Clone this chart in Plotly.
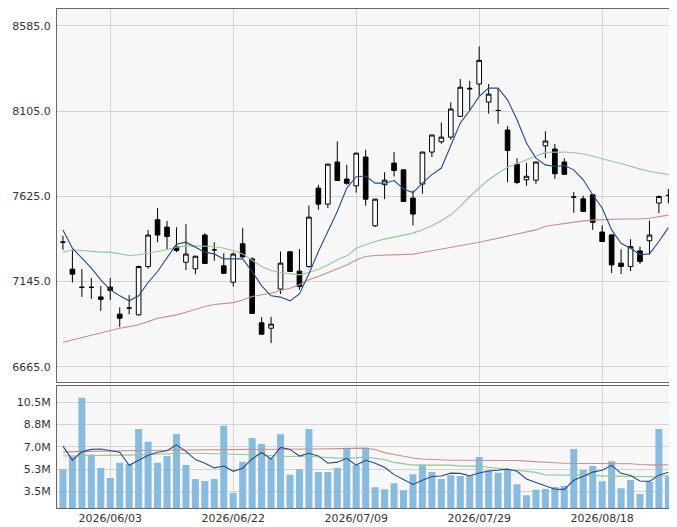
import plotly.graph_objects as go

dates = ["2026/05/27","2026/05/28","2026/05/29","2026/06/01","2026/06/02","2026/06/03","2026/06/04","2026/06/05",
         "2026/06/08","2026/06/09","2026/06/10","2026/06/11","2026/06/12","2026/06/15","2026/06/16","2026/06/17",
         "2026/06/18","2026/06/19","2026/06/22","2026/06/23","2026/06/24","2026/06/25","2026/06/26","2026/06/29",
         "2026/06/30","2026/07/01","2026/07/02","2026/07/03","2026/07/06","2026/07/07","2026/07/08","2026/07/09",
         "2026/07/10","2026/07/13","2026/07/14","2026/07/15","2026/07/16","2026/07/17","2026/07/21","2026/07/22",
         "2026/07/23","2026/07/24","2026/07/27","2026/07/28","2026/07/29","2026/07/30","2026/07/31","2026/08/03",
         "2026/08/04","2026/08/05","2026/08/06","2026/08/07","2026/08/10","2026/08/12","2026/08/13","2026/08/14",
         "2026/08/17","2026/08/18","2026/08/19","2026/08/20","2026/08/21","2026/08/24","2026/08/25","2026/08/26",
         "2026/08/27"]

open_ = [7367,7215,7113,7113,7059,7114,6962,6996,6958,7230,7493,7452,7342,7254,7217,7407,7324,7234,7142,7358,
         7273,6913,6883,7103,7313,7204,7230,7671,7581,7818,7722,7684,7846,7459,7690,7812,7774,7615,7694,7874,
         7932,7958,8075,8233,8257,8155,8108,7998,7806,7718,7716,7909,7891,7818,7621,7611,7634,7424,7408,7249,
         7230,7318,7375,7587,7630]
high = [7403,7324,7215,7166,7121,7165,7000,7069,7235,7436,7559,7487,7451,7469,7290,7418,7366,7305,7309,7448,
        7281,6945,6947,7314,7315,7328,7573,7690,7808,7934,7802,7870,7887,7612,7761,7874,7776,7658,7876,7972,
        8041,8154,8285,8275,8468,8257,8234,8020,7839,7814,7820,7991,7919,7839,7650,7628,7636,7461,7410,7328,
        7384,7342,7487,7630,7666]
low = [7324,7140,7059,7048,6980,7042,6890,6961,6955,7218,7367,7328,7310,7210,7187,7245,7262,7187,7117,7280,
       6964,6847,6799,7076,7200,7099,7223,7549,7559,7712,7690,7646,7572,7452,7609,7737,7594,7461,7639,7846,
       7921,7943,8072,8108,8191,8090,8033,7704,7693,7684,7695,7840,7722,7745,7532,7538,7436,7369,7193,7187,
       7204,7245,7296,7531,7586]
close = [7367,7187,7113,7113,7045,7095,6939,6996,7230,7407,7407,7399,7320,7300,7288,7247,7324,7192,7300,7284,
         6966,6849,6906,7249,7202,7117,7508,7581,7806,7714,7698,7868,7609,7609,7716,7770,7596,7525,7874,7970,
         7958,8116,8239,8230,8390,8200,8108,7883,7703,7738,7818,7936,7752,7749,7621,7540,7479,7371,7239,7230,
         7342,7258,7407,7624,7630]

ma5 = [7436,7333,7277,7221,7155,7099,7065,7037,7065,7140,7202,7277,7356,7367,7339,7311,7301,7273,7273,7273,
       7202,7121,7065,7058,7037,7076,7189,7314,7427,7540,7671,7735,7739,7699,7699,7714,7666,7646,7699,7747,
       7784,7906,8037,8108,8187,8234,8234,8168,8056,7925,7840,7802,7793,7798,7774,7718,7634,7559,7436,7361,
       7333,7296,7301,7371,7449]
ma25 = [7311,7324,7320,7314,7311,7311,7301,7292,7296,7305,7314,7324,7339,7346,7346,7346,7343,7333,7320,7301,
        7267,7230,7208,7196,7189,7183,7196,7215,7239,7268,7290,7333,7352,7371,7384,7395,7407,7418,7437,7459,
        7488,7521,7568,7624,7672,7718,7755,7788,7810,7829,7850,7872,7874,7874,7870,7863,7850,7834,7822,7810,
        7792,7778,7766,7756,7747]
ma75 = [6804,6817,6830,6845,6860,6873,6883,6892,6902,6920,6939,6948,6958,6973,6990,7005,7016,7020,7027,7042,
        7061,7071,7080,7095,7108,7127,7155,7174,7196,7215,7239,7267,7286,7292,7294,7296,7298,7300,7309,7318,
        7328,7337,7346,7356,7367,7378,7390,7401,7412,7424,7436,7457,7465,7472,7480,7487,7491,7494,7497,7497,
        7497,7497,7502,7511,7519]

volume_m = [5.25,6.25,10.86,6.41,5.35,4.56,5.75,5.65,8.41,7.40,5.75,6.29,8.02,5.58,4.47,4.32,4.47,8.65,3.40,5.83,
            7.70,7.22,6.10,8.00,4.81,5.24,8.41,5.03,5.03,5.35,6.90,5.57,6.85,3.82,3.68,4.14,3.60,4.85,5.62,5.02,
            4.47,4.78,4.72,4.78,6.20,5.14,4.96,5.23,4.07,3.21,3.63,3.69,3.84,3.92,6.83,5.18,5.49,4.31,5.88,3.76,
            4.39,3.29,4.26,8.40,4.70]
vma5 = [7.06,5.96,6.61,6.80,6.83,6.68,6.58,5.55,5.95,6.35,6.58,6.70,7.16,6.65,6.00,5.72,5.35,5.50,5.08,5.32,
        6.05,6.56,6.05,6.96,6.80,6.28,6.50,6.29,5.72,5.80,6.10,5.57,5.95,5.72,5.40,4.82,4.43,4.05,4.38,4.67,
        4.71,4.94,4.92,4.73,4.95,5.11,5.17,5.25,5.08,4.48,4.20,3.92,3.67,3.66,4.38,4.70,5.02,5.16,5.55,4.92,
        4.75,4.32,4.29,4.78,5.00]
vma25 = [6.28,6.30,6.32,6.33,6.35,6.35,6.35,6.35,6.38,6.40,6.42,6.45,6.49,6.50,6.50,6.49,6.47,6.45,6.43,6.40,
         6.37,6.33,6.30,6.27,6.25,6.26,6.26,6.20,6.14,6.12,6.14,6.14,6.20,6.10,6.00,5.78,5.68,5.57,5.57,5.57,
         5.57,5.57,5.49,5.49,5.49,5.40,5.30,5.23,5.16,5.10,5.00,4.80,4.78,4.78,4.78,4.78,4.73,4.72,4.70,4.70,
         4.70,4.70,4.68,4.65,4.75]
vma75 = [6.61,6.63,6.66,6.68,6.69,6.70,6.72,6.72,6.72,6.72,6.75,6.75,6.76,6.76,6.77,6.77,6.77,6.78,6.78,6.78,
         6.80,6.80,6.81,6.81,6.82,6.82,6.83,6.83,6.84,6.85,6.88,6.88,6.90,6.80,6.55,6.40,6.25,6.12,6.05,6.00,
         5.97,5.95,5.95,5.95,5.95,5.95,5.93,5.93,5.93,5.88,5.82,5.78,5.75,5.72,5.72,5.71,5.71,5.70,5.68,5.68,
         5.68,5.62,5.58,5.57,5.60]

price_ticks = [6665, 7145, 7625, 8105, 8585]
vol_ticks_m = [3.5, 5.25, 7.0, 8.75, 10.5]
vol_tick_text = ["3.5M", "5.3M", "7.0M", "8.8M", "10.5M"]
x_tick_dates = ["2026/06/03", "2026/06/22", "2026/07/09", "2026/07/29", "2026/08/18"]

volume = [v * 1e6 for v in volume_m]
vma5_v = [v * 1e6 for v in vma5]
vma25_v = [v * 1e6 for v in vma25]
vma75_v = [v * 1e6 for v in vma75]

BLUE = "#264a8a"
GREEN = "#94c994"
RED = "#cc8c8c"

fig = go.Figure()
fig.add_trace(go.Candlestick(
    x=dates, open=open_, high=high, low=low, close=close,
    increasing=dict(line=dict(color="#000000", width=1), fillcolor="#ffffff"),
    decreasing=dict(line=dict(color="#000000", width=1), fillcolor="#000000"),
    xaxis="x", yaxis="y", showlegend=False, hoverinfo="skip"))
for series, col in [(ma75, RED), (ma25, GREEN), (ma5, BLUE)]:
    fig.add_trace(go.Scatter(x=dates, y=series, mode="lines", line=dict(color=col, width=1.1),
                             xaxis="x", yaxis="y", showlegend=False, hoverinfo="skip"))

fig.add_trace(go.Bar(x=dates, y=volume, marker=dict(color="#88bbdd", line=dict(width=0)),
                     xaxis="x2", yaxis="y2", showlegend=False, hoverinfo="skip"))
for series, col in [(vma75_v, RED), (vma25_v, GREEN), (vma5_v, BLUE)]:
    fig.add_trace(go.Scatter(x=dates, y=series, mode="lines", line=dict(color=col, width=1.1),
                             xaxis="x2", yaxis="y2", showlegend=False, hoverinfo="skip"))

frame = dict(showline=True, linecolor="#666666", linewidth=1, mirror=True, automargin=False)
grid = dict(showgrid=True, gridcolor="#d4d4d4", gridwidth=1, zeroline=False)
font_tick = dict(family="DejaVu Sans", size=11, color="#333333")
x_range = [-0.63, 64.7]

# the page body adds an 8px offset, so the figure is sized to fill the 677x527 window
fig.update_layout(
    width=669, height=519,
    margin=dict(l=49, r=2, t=1, b=19, pad=0, autoexpand=False),
    paper_bgcolor="#ffffff", plot_bgcolor="#f7f7f7",
    bargap=0.26,
    showlegend=False,
    xaxis=dict(type="category", domain=[0, 1], anchor="y", range=x_range, autorange=False,
               categoryorder="array", categoryarray=dates,
               tickvals=x_tick_dates, showticklabels=False, ticks="",
               rangeslider=dict(visible=False), **frame, **grid),
    yaxis=dict(domain=[0.2535, 1], anchor="x", range=[6583, 8679], autorange=False, tickvals=price_ticks,
               tickformat=".1f", tickfont=font_tick, ticks="", ticklabelstandoff=3, **frame, **grid),
    xaxis2=dict(type="category", domain=[0, 1], anchor="y2", range=x_range, autorange=False,
                categoryorder="array", categoryarray=dates,
                tickvals=x_tick_dates, ticktext=x_tick_dates, tickfont=font_tick, ticks="",
                **frame, **grid),
    yaxis2=dict(domain=[0, 0.245], anchor="x2", range=[2.2e6, 11.8e6], autorange=False,
                tickvals=[v * 1e6 for v in vol_ticks_m],
                ticktext=vol_tick_text, tickfont=font_tick, ticks="", ticklabelstandoff=3, **frame, **grid),
)

fig.write_html("out.html")
